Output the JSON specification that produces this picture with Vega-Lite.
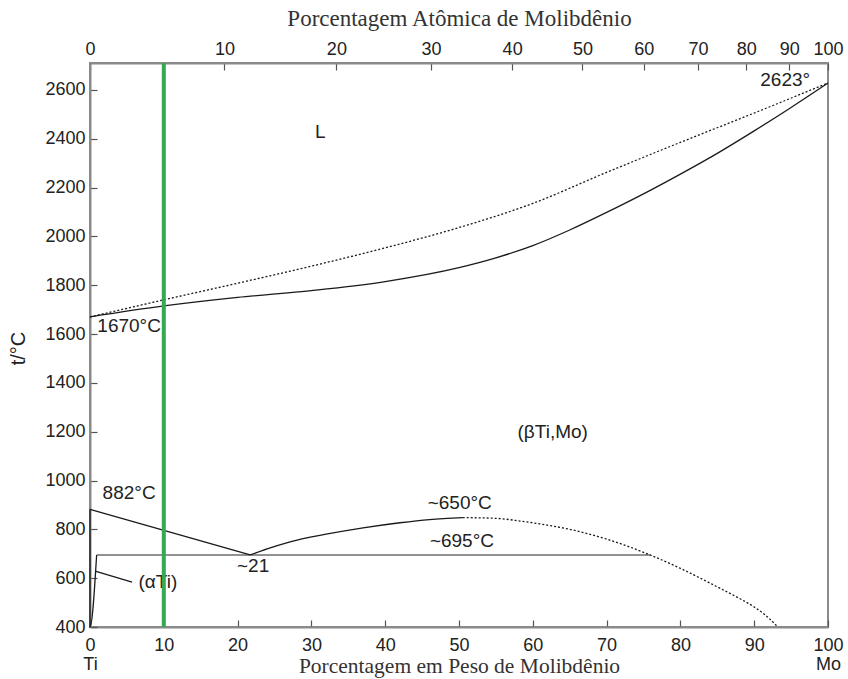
{
  "$schema": "https://vega.github.io/schema/vega-lite/v6.json",
  "width": 738,
  "height": 564,
  "autosize": "none",
  "padding": {"left": 90, "top": 63, "right": 20, "bottom": 52},
  "background": "white",
  "config": {
    "view": {"stroke": "#8a8a8a", "strokeWidth": 2},
    "axis": {
      "domainColor": "#8a8a8a",
      "domainWidth": 2,
      "tickColor": "#555",
      "tickWidth": 1.2,
      "tickSize": -7,
      "labelFont": "Liberation Sans",
      "labelFontSize": 18,
      "labelColor": "#222",
      "labelOverlap": false,
      "labelFlush": false,
      "grid": false
    }
  },
  "datasets": {
    "lines": [
      {"series": "solidus", "wt": 0, "T": 1670},
      {"series": "solidus", "wt": 10, "T": 1715},
      {"series": "solidus", "wt": 20, "T": 1750},
      {"series": "solidus", "wt": 30, "T": 1778},
      {"series": "solidus", "wt": 40, "T": 1815},
      {"series": "solidus", "wt": 50, "T": 1872},
      {"series": "solidus", "wt": 55, "T": 1912},
      {"series": "solidus", "wt": 60, "T": 1962},
      {"series": "solidus", "wt": 65, "T": 2026},
      {"series": "solidus", "wt": 70, "T": 2098},
      {"series": "solidus", "wt": 75, "T": 2174},
      {"series": "solidus", "wt": 80, "T": 2255},
      {"series": "solidus", "wt": 85, "T": 2340},
      {"series": "solidus", "wt": 90, "T": 2432},
      {"series": "solidus", "wt": 95, "T": 2528},
      {"series": "solidus", "wt": 100, "T": 2628},
      {"series": "liquidus", "wt": 0, "T": 1670},
      {"series": "liquidus", "wt": 10, "T": 1740},
      {"series": "liquidus", "wt": 20, "T": 1808},
      {"series": "liquidus", "wt": 30, "T": 1878},
      {"series": "liquidus", "wt": 40, "T": 1953},
      {"series": "liquidus", "wt": 50, "T": 2036},
      {"series": "liquidus", "wt": 60, "T": 2135},
      {"series": "liquidus", "wt": 70, "T": 2262},
      {"series": "liquidus", "wt": 80, "T": 2385},
      {"series": "liquidus", "wt": 90, "T": 2505},
      {"series": "liquidus", "wt": 100, "T": 2628},
      {"series": "beta_transus", "wt": 0, "T": 882},
      {"series": "beta_transus", "wt": 21.7, "T": 695},
      {"series": "alpha_solvus", "wt": 0, "T": 882},
      {"series": "alpha_solvus", "wt": 0.9, "T": 695},
      {"series": "alpha_solvus", "wt": 0, "T": 400},
      {"series": "miscibility", "wt": 21.7, "T": 695},
      {"series": "miscibility", "wt": 24, "T": 720},
      {"series": "miscibility", "wt": 27, "T": 748},
      {"series": "miscibility", "wt": 32, "T": 780},
      {"series": "miscibility", "wt": 37, "T": 806},
      {"series": "miscibility", "wt": 42, "T": 827},
      {"series": "miscibility", "wt": 46, "T": 840},
      {"series": "miscibility", "wt": 50.5, "T": 848},
      {"series": "leader", "wt": 0.7, "T": 629},
      {"series": "leader", "wt": 5.7, "T": 584}
    ],
    "dotted": [
      {"series": "miscibility_est", "wt": 50.5, "T": 848},
      {"series": "miscibility_est", "wt": 55, "T": 845},
      {"series": "miscibility_est", "wt": 58.3, "T": 834},
      {"series": "miscibility_est", "wt": 61, "T": 822},
      {"series": "miscibility_est", "wt": 65, "T": 800},
      {"series": "miscibility_est", "wt": 70, "T": 760},
      {"series": "miscibility_est", "wt": 75.9, "T": 695},
      {"series": "miscibility_est", "wt": 80, "T": 640},
      {"series": "miscibility_est", "wt": 85.4, "T": 558},
      {"series": "miscibility_est", "wt": 88, "T": 517},
      {"series": "miscibility_est", "wt": 90, "T": 482},
      {"series": "miscibility_est", "wt": 92, "T": 436},
      {"series": "miscibility_est", "wt": 93.2, "T": 400}
    ],
    "eutectoid": [
      {"series": "eutectoid", "wt": 0.9, "T": 695},
      {"series": "eutectoid", "wt": 75.9, "T": 695}
    ],
    "labels": [
      {"text": "L", "wt": 31.2, "T": 2428},
      {"text": "2623°", "wt": 94.2, "T": 2641},
      {"text": "1670°C", "wt": 5.3, "T": 1633},
      {"text": "(βTi,Mo)", "wt": 62.7, "T": 1199},
      {"text": "882°C", "wt": 5.3, "T": 949},
      {"text": "~650°C", "wt": 50.1, "T": 908},
      {"text": "~695°C", "wt": 50.4, "T": 752},
      {"text": "~21", "wt": 22.1, "T": 650},
      {"text": "(αTi)", "wt": 9.2, "T": 584}
    ],
    "marker": [{"wt": 10}]
  },
  "layer": [
    {
      "layer": [
        {
          "data": {"name": "eutectoid"},
          "mark": {"type": "line", "color": "#6e6e6e", "strokeWidth": 1.6},
          "encoding": {
            "x": {"field": "wt", "type": "quantitative", "scale": {"domain": [0, 100], "nice": false},
              "axis": {"orient": "bottom", "values": [0,10,20,30,40,50,60,70,80,90,100],
                "labelExpr": "datum.value == 0 ? ['0','Ti'] : datum.value == 100 ? ['100','Mo'] : datum.label",
                "labelPadding": 16, "labelLineHeight": 19,
                "title": "Porcentagem em Peso de Molibdênio",
                "titleFont": "Liberation Serif", "titleFontSize": 21.5, "titleFontWeight": "normal", "titleColor": "#333",
                "titleY": 39, "titleBaseline": "middle"}},
            "y": {"field": "T", "type": "quantitative", "scale": {"domain": [400, 2710], "nice": false, "zero": false},
              "axis": {"values": [400,600,800,1000,1200,1400,1600,1800,2000,2200,2400,2600], "format": "d", "labelPadding": 12,
                "title": "t/°C", "titleFont": "Liberation Sans", "titleFontSize": 20, "titleFontWeight": "normal", "titleColor": "#222",
                "titleAngle": -90, "titleX": -72, "titleY": 285, "titleAlign": "center", "titleBaseline": "middle"}}
          }
        },
        {
          "data": {"name": "lines"},
          "transform": [{"filter": "datum.series != 'liquidus'"}],
          "mark": {"type": "line", "color": "#1a1a1a", "strokeWidth": 1.3, "interpolate": "monotone"},
          "encoding": {
            "x": {"field": "wt", "type": "quantitative"},
            "y": {"field": "T", "type": "quantitative"},
            "detail": {"field": "series"},
            "order": {"value": 0}
          }
        },
        {
          "data": {"name": "lines"},
          "transform": [{"filter": "datum.series == 'liquidus'"}],
          "mark": {"type": "line", "color": "#1a1a1a", "strokeWidth": 1.3, "strokeDash": [2, 2], "interpolate": "monotone"},
          "encoding": {
            "x": {"field": "wt", "type": "quantitative"},
            "y": {"field": "T", "type": "quantitative"}
          }
        },
        {
          "data": {"name": "dotted"},
          "mark": {"type": "line", "color": "#1a1a1a", "strokeWidth": 1.3, "strokeDash": [2, 2], "interpolate": "monotone"},
          "encoding": {
            "x": {"field": "wt", "type": "quantitative"},
            "y": {"field": "T", "type": "quantitative"}
          }
        },
        {
          "data": {"name": "labels"},
          "mark": {"type": "text", "font": "Liberation Sans", "fontSize": 19, "color": "#222", "align": "center", "baseline": "middle"},
          "encoding": {
            "x": {"field": "wt", "type": "quantitative"},
            "y": {"field": "T", "type": "quantitative"},
            "text": {"field": "text"}
          }
        }
      ]
    },
    {
      "data": {"name": "marker"},
      "mark": {"type": "rule", "color": "#35a853", "strokeWidth": 4},
      "encoding": {
        "x": {"field": "wt", "type": "quantitative", "scale": {"domain": [0, 100], "nice": false},
          "axis": {"orient": "top", "values": [0, 18.215, 33.385, 46.21, 57.2, 66.72, 75.04, 82.39, 88.91, 94.75, 100],
            "labelExpr": "'' + round(100 * (datum.value / 95.95) / (datum.value / 95.95 + (100 - datum.value) / 47.867))",
            "labelPadding": 12,
            "title": "Porcentagem Atômica de Molibdênio",
            "titleFont": "Liberation Serif", "titleFontSize": 23, "titleFontWeight": "normal", "titleColor": "#333",
            "titleY": -45, "titleBaseline": "middle"}}
      }
    }
  ],
  "resolve": {"scale": {"x": "independent"}}
}
